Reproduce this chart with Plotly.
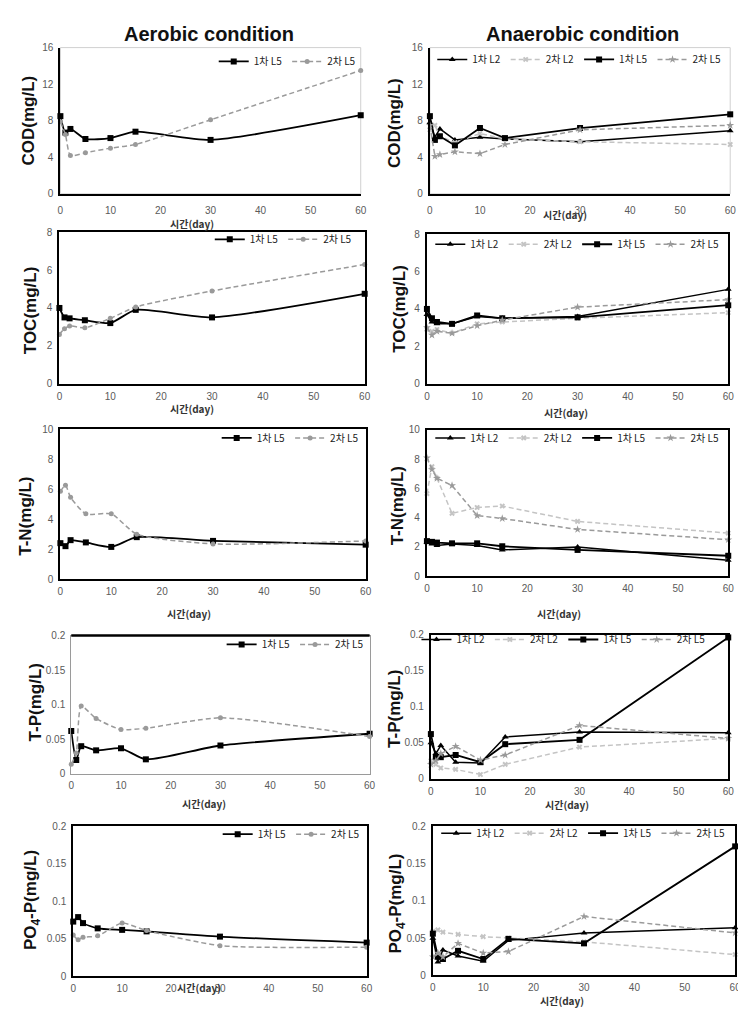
import plotly.graph_objects as go

W, H = 746, 1010

# ---------------- data ----------------
days = [0, 1, 2, 5, 10, 15, 30, 60]
series_names_aer = ["1차 L5", "2차 L5"]
series_names_ana = ["1차 L2", "2차 L2", "1차 L5", "2차 L5"]

# Aerobic condition (L5)
cod_aer_1L5 = [8.5, 6.7, 7.1, 6.0, 6.1, 6.8, 5.9, 8.6]
cod_aer_2L5 = [7.9, 6.5, 4.2, 4.5, 5.0, 5.4, 8.1, 13.5]
toc_aer_1L5 = [4.0, 3.5, 3.45, 3.35, 3.2, 3.9, 3.5, 4.75]
toc_aer_2L5 = [2.6, 2.9, 3.05, 2.95, 3.45, 4.05, 4.9, 6.3]
tn_aer_1L5 = [2.4, 2.2, 2.6, 2.45, 2.15, 2.8, 2.55, 2.3]
tn_aer_2L5 = [5.85, 6.25, 5.45, 4.35, 4.35, 3.0, 2.35, 2.55]
tp_aer_1L5 = [0.062, 0.02, 0.04, 0.034, 0.037, 0.021, 0.041, 0.058]
tp_aer_2L5 = [0.014, 0.03, 0.098, 0.08, 0.064, 0.066, 0.081, 0.054]
po4_aer_1L5 = [0.073, 0.079, 0.071, 0.064, 0.062, 0.06, 0.053, 0.045]
po4_aer_2L5 = [0.055, 0.049, 0.052, 0.054, 0.071, 0.061, 0.041, 0.039]

# Anaerobic condition (L2, L5)
cod_ana_1L2 = [7.8, 6.2, 7.1, 5.9, 6.2, 6.0, 5.7, 6.9]
cod_ana_2L2 = [7.0, 7.5, 6.3, 5.6, 6.6, 6.0, 5.7, 5.4]
cod_ana_1L5 = [8.5, 5.9, 6.3, 5.3, 7.2, 6.1, 7.2, 8.7]
cod_ana_2L5 = [7.5, 4.1, 4.3, 4.6, 4.4, 5.4, 7.0, 7.5]
toc_ana_1L2 = [3.7, 3.3, 3.2, 3.2, 3.6, 3.5, 3.6, 5.05]
toc_ana_2L2 = [2.9, 2.8, 2.9, 2.7, 3.2, 3.3, 3.5, 3.8]
toc_ana_1L5 = [4.0, 3.5, 3.3, 3.2, 3.65, 3.5, 3.55, 4.2]
toc_ana_2L5 = [3.0, 2.6, 2.8, 2.7, 3.1, 3.4, 4.1, 4.5]
tn_ana_1L2 = [2.3, 2.2, 2.1, 2.2, 2.1, 1.8, 2.0, 1.1]
tn_ana_2L2 = [5.65, 7.5, 6.7, 4.3, 4.7, 4.8, 3.75, 2.95]
tn_ana_1L5 = [2.4, 2.35, 2.3, 2.25, 2.25, 2.05, 1.8, 1.4]
tn_ana_2L5 = [8.1, 7.3, 6.7, 6.2, 4.15, 3.95, 3.2, 2.5]
tp_ana_1L2 = [0.05, 0.035, 0.046, 0.023, 0.022, 0.058, 0.065, 0.064]
tp_ana_2L2 = [0.025, 0.02, 0.015, 0.013, 0.006, 0.02, 0.044, 0.056]
tp_ana_1L5 = [0.062, 0.03, 0.03, 0.033, 0.023, 0.048, 0.054, 0.196]
tp_ana_2L5 = [0.02, 0.025, 0.035, 0.045, 0.026, 0.033, 0.074, 0.056]
po4_ana_1L2 = [0.05, 0.018, 0.034, 0.026, 0.019, 0.047, 0.057, 0.064]
po4_ana_2L2 = [0.059, 0.061, 0.058, 0.055, 0.052, 0.05, 0.045, 0.028]
po4_ana_1L5 = [0.056, 0.025, 0.022, 0.033, 0.022, 0.049, 0.043, 0.173]
po4_ana_2L5 = [0.025, 0.03, 0.025, 0.043, 0.03, 0.032, 0.079, 0.057]

x_ticks = [0, 10, 20, 30, 40, 50, 60]
col_titles = ["Aerobic condition", "Anaerobic condition"]
y_titles = ["COD(mg/L)", "TOC(mg/L)", "T-N(mg/L)", "T-P(mg/L)", "PO<sub>4</sub>-P(mg/L)"]
x_title = "시간(day)"
y_max = [16, 8, 10, 0.2, 0.2]
y_step = [4, 2, 2, 0.05, 0.05]

aer_data = [(cod_aer_1L5, cod_aer_2L5), (toc_aer_1L5, toc_aer_2L5), (tn_aer_1L5, tn_aer_2L5),
            (tp_aer_1L5, tp_aer_2L5), (po4_aer_1L5, po4_aer_2L5)]
ana_data = [(cod_ana_1L2, cod_ana_2L2, cod_ana_1L5, cod_ana_2L5),
            (toc_ana_1L2, toc_ana_2L2, toc_ana_1L5, toc_ana_2L5),
            (tn_ana_1L2, tn_ana_2L2, tn_ana_1L5, tn_ana_2L5),
            (tp_ana_1L2, tp_ana_2L2, tp_ana_1L5, tp_ana_2L5),
            (po4_ana_1L2, po4_ana_2L2, po4_ana_1L5, po4_ana_2L5)]

# ---------------- layout geometry (pixels) ----------------
areas = {
    1: (50, 354, 34, 182), 2: (424, 728, 34, 182),
    3: (49, 358, 221, 374), 4: (421, 726, 223, 374),
    5: (50, 359, 420, 572), 6: (421, 726, 421, 569),
    7: (61, 363, 629, 769), 8: (425, 726, 628, 774),
    9: (63, 360, 822, 974), 10: (427, 733, 822, 973),
}
frame_style = {1: "lb", 2: "lb", 3: "full", 4: "full", 5: "full", 6: "full",
               7: "top", 8: "full", 9: "full", 10: "full"}
ytitle_pos = {1: (18, 108), 2: (388, 110), 3: (20, 300), 4: (393, 298), 5: (15, 508),
              6: (391, 498), 7: (25, 697), 8: (388, 703), 9: (22, 897), 10: (391, 900)}
xtitle_pos = {1: (183, 212), 2: (561, 203), 3: (183, 399), 4: (562, 403), 5: (180, 607),
              6: (555, 607), 7: (195, 799), 8: (563, 800), 9: (190, 985), 10: (558, 998)}
legend_pos = {1: (354, 48), 2: (724, 46), 3: (350, 228), 4: (722, 233), 5: (357, 429),
              6: (722, 429), 7: (362, 638), 8: (708, 633), 9: (358, 830), 10: (728, 829)}
tick_standoff = {1: 6, 2: 6}

BLACK = "#000000"
GRAY2L5 = "#9a9a9a"
GRAY2L2 = "#c4c4c4"
FONT = "Liberation Sans, Noto Sans CJK KR, sans-serif"
KFONT = "Noto Sans CJK KR, Liberation Sans, sans-serif"

styles_aer = [
    dict(line=dict(color=BLACK, width=1.8), marker=dict(symbol="square", size=6, color=BLACK)),
    dict(line=dict(color=GRAY2L5, width=1.5, dash="5px,3px"), marker=dict(symbol="circle", size=5, color=GRAY2L5)),
]
styles_ana = [
    dict(line=dict(color=BLACK, width=1.5), marker=dict(symbol="triangle-up", size=6, color=BLACK)),
    dict(line=dict(color=GRAY2L2, width=1.5, dash="5px,3px"), marker=dict(symbol="x", size=5, color=GRAY2L2)),
    dict(line=dict(color=BLACK, width=1.8), marker=dict(symbol="square", size=6, color=BLACK)),
    dict(line=dict(color=GRAY2L5, width=1.5, dash="5px,3px"), marker=dict(symbol="star", size=6, color=GRAY2L5)),
]

fig = go.Figure()
layout = dict(width=W, height=H, margin=dict(l=0, r=0, t=0, b=0),
              paper_bgcolor="white", plot_bgcolor="white", showlegend=True,
              annotations=[], shapes=[])

for i in range(1, 11):
    row = (i - 1) // 2
    col = (i - 1) % 2
    l, r, t, b = areas[i]
    xs = "" if i == 1 else str(i)
    xname = "x" + xs
    yname = "y" + xs
    lname = "legend" if i == 1 else f"legend{i}"

    if col == 0:
        names, data, styles = series_names_aer, aer_data[row], styles_aer
        smooth = dict(shape="spline", smoothing=0.6)
    else:
        names, data, styles = series_names_ana, ana_data[row], styles_ana
        smooth = dict(shape="linear")

    for name, vals, st in zip(names, data, styles):
        line = dict(st["line"])
        line.update(smooth)
        fig.add_trace(go.Scatter(x=days, y=vals, name=name, mode="lines+markers",
                                 line=line, marker=st["marker"], xaxis=xname, yaxis=yname,
                                 legend=lname, cliponaxis=False))

    fs = frame_style[i]
    if fs == "full":
        lc, lw, mir = BLACK, 2, True
    elif fs == "lb":
        lc, lw, mir = BLACK, 2, False
    else:
        lc, lw, mir = "#9a9a9a", 1, True

    tickfont = dict(family=FONT, size=10, color="#5a5a5a")
    layout["xaxis" + xs] = dict(domain=[l / W, r / W], range=[0, 60], tickvals=x_ticks,
                                showline=True, linecolor=lc, linewidth=lw, mirror=mir,
                                showgrid=False, zeroline=False, ticks="", tickfont=tickfont,
                                anchor=yname, ticklabelstandoff=tick_standoff.get(i, 2))
    layout["yaxis" + xs] = dict(domain=[1 - b / H, 1 - t / H], range=[0, y_max[row]], dtick=y_step[row],
                                showline=True, linecolor=lc, linewidth=lw, mirror=mir,
                                showgrid=False, zeroline=False, ticks="", tickfont=tickfont,
                                anchor=xname, ticklabelstandoff=3)

    if fs == "lb":
        layout["shapes"].append(dict(type="rect", xref=xname + " domain", yref=yname + " domain",
                                     x0=0, x1=1, y0=0, y1=1, line=dict(color="#d0d0d0", width=1),
                                     layer="below"))
    if fs == "top":
        layout["shapes"].append(dict(type="line", xref=xname + " domain", yref=yname + " domain",
                                     x0=0, x1=1, y0=1, y1=1, line=dict(color=BLACK, width=2.5),
                                     layer="above"))

    lx, ly = legend_pos[i]
    layout[lname] = dict(x=lx / W, y=1 - ly / H, xanchor="right", yanchor="middle",
                         orientation="h", bgcolor="rgba(0,0,0,0)", itemwidth=30,
                         font=dict(family=KFONT, size=10, color="#222"),
                         tracegroupgap=0, itemclick=False)

    yx, yy = ytitle_pos[i]
    layout["annotations"].append(dict(text=f"<b>{y_titles[row]}</b>", x=yx / W, y=1 - yy / H,
                                      xref="paper", yref="paper", showarrow=False, textangle=-90,
                                      xanchor="center", yanchor="middle",
                                      font=dict(family=FONT, size=17, color="#111")))
    tx, ty = xtitle_pos[i]
    layout["annotations"].append(dict(text=f"<b>{x_title}</b>", x=tx / W, y=1 - ty / H,
                                      xref="paper", yref="paper", showarrow=False,
                                      xanchor="center", yanchor="middle",
                                      font=dict(family=KFONT, size=10, color="#333")))

for col, (cx, cy) in enumerate([(200, 20), (578, 20)]):
    layout["annotations"].append(dict(text=f"<b>{col_titles[col]}</b>", x=cx / W, y=1 - cy / H,
                                      xref="paper", yref="paper", showarrow=False,
                                      xanchor="center", yanchor="middle",
                                      font=dict(family=FONT, size=20, color="#111")))

fig.update_layout(**layout)
fig.write_html("out.html")
